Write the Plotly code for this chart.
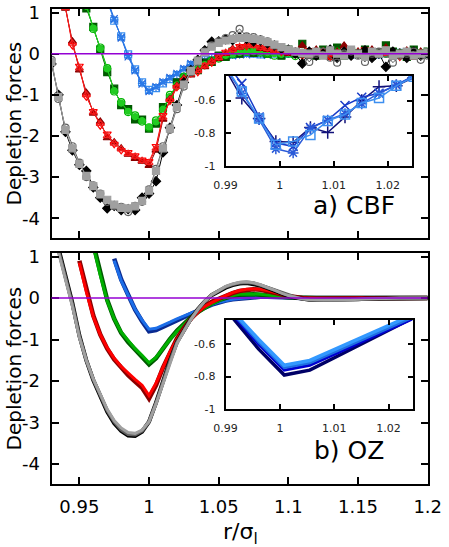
"""
Depletion forces: CBF simulation (top) vs OZ theory (bottom), with zoomed insets.
"""

import plotly.graph_objects as go

W, H = 449, 547

# ---------------------------------------------------------------------------
# data
# ---------------------------------------------------------------------------

# r/sigma grid of the main panels
R = [0.930, 0.935, 0.940, 0.945, 0.950, 0.955, 0.960, 0.965, 0.970, 0.975,
     0.980, 0.985, 0.990, 0.995, 1.000, 1.005, 1.010, 1.015, 1.020, 1.025,
     1.030, 1.035, 1.040, 1.045, 1.050, 1.055, 1.060, 1.065, 1.070, 1.075,
     1.080, 1.085, 1.090, 1.095, 1.100, 1.105, 1.110, 1.115, 1.120, 1.125,
     1.130, 1.135, 1.140, 1.145, 1.150, 1.155, 1.160, 1.165, 1.170, 1.175,
     1.180, 1.185, 1.190, 1.195, 1.200]

# (a) CBF, grey group starts at R[0]
cbf_black = [-0.25, -1.0, -1.9, -2.35, -2.7, -2.85, -3.25, -3.5, -3.76, -3.7,
             -3.8, -3.78, -3.8, -3.5, -3.4, -3.1, -2.4, -1.8, -1.25, -0.7,
             -0.4, -0.15, 0.08, 0.29, 0.3, 0.35, 0.33, 0.4, 0.36, 0.3,
             0.32, 0.25, 0.2, 0.12, 0.1, 0.0, -0.24, 0.05, -0.05, 0.0,
             0.1, -0.1, 0.05, -0.05, 0.0, 0.08, -0.1, 0.0, -0.32, 0.05,
             0.0, -0.1, 0.05, -0.05, 0.0]
cbf_dgrey = [-0.15, -1.1, -1.8, -2.25, -2.65, -3.0, -3.2, -3.4, -3.6, -3.7,
             -3.72, -3.85, -3.7, -3.6, -3.3, -2.8, -2.25, -1.85, -1.35, -0.8,
             -0.45, -0.2, 0.05, 0.2, 0.3, 0.38, 0.45, 0.6, 0.42, 0.4,
             0.35, 0.3, 0.2, 0.15, 0.08, 0.05, 0.0, -0.2, 0.0, 0.05,
             -0.1, -0.22, 0.0, 0.05, -0.05, -0.2, 0.0, 0.05, 0.0, -0.22,
             -0.05, 0.0, 0.05, -0.15, -0.05]
cbf_lgrey = [-0.2, -1.05, -1.85, -2.3, -2.68, -2.97, -3.22, -3.42, -3.55, -3.67,
             -3.75, -3.76, -3.71, -3.58, -3.33, -2.85, -2.3, -1.82, -1.3, -0.75,
             -0.42, -0.17, 0.03, 0.17, 0.26, 0.32, 0.36, 0.38, 0.38, 0.36,
             0.33, 0.28, 0.22, 0.16, 0.1, 0.05, 0.02, 0.0, 0.05, -0.05,
             0.08, 0.0, -0.05, 0.1, 0.0, -0.08, 0.05, 0.0, 0.08, -0.05,
             0.0, 0.05, -0.05, 0.0, 0.03]

# red group starts at R[2]
cbf_dred = [1.1, 0.3, -0.4, -0.95, -1.45, -1.65, -2.05, -2.15, -2.3, -2.45,
            -2.55, -2.62, -2.72, -2.35, -1.6, -1.1, -0.78, -0.6, -0.52, -0.4,
            -0.32, -0.18, -0.12, 0.0, 0.12, 0.15, 0.22, 0.2, 0.12, 0.1,
            0.05, 0.1, 0.0, 0.05, 0.2, -0.05, 0.1, 0.0, -0.1, 0.05,
            0.2, 0.0, 0.05, -0.05, 0.1, 0.0, 0.15, -0.05, 0.0, 0.08,
            -0.1, 0.05, 0.0]
cbf_red = [1.15, 0.2, -0.3, -1.05, -1.4, -1.75, -1.95, -2.2, -2.35, -2.4,
           -2.48, -2.58, -2.62, -2.25, -1.5, -1.15, -0.82, -0.65, -0.48, -0.45,
           -0.28, -0.22, -0.08, 0.04, 0.08, 0.18, 0.18, 0.22, 0.16, 0.13,
           0.1, 0.04, 0.05, 0.0, -0.05, 0.08, 0.0, 0.05, -0.08, 0.0,
           0.05, -0.05, 0.0, 0.1, -0.05, 0.0, 0.05, 0.0, -0.08, 0.05,
           0.0, -0.05, 0.03]
cbf_lred = [1.12, 0.25, -0.35, -1.0, -1.42, -1.7, -2.0, -2.18, -2.32, -2.43,
            -2.5, -2.6, -2.65, -2.3, -1.55, -1.12, -0.8, -0.62, -0.5, -0.42,
            -0.3, -0.2, -0.1, 0.02, 0.1, 0.16, 0.2, 0.19, 0.15, 0.12,
            0.08, 0.05, 0.03, 0.02, 0.0, 0.03, -0.02, 0.05, 0.0, -0.03,
            0.02, 0.0, 0.04, -0.02, 0.0, 0.03, 0.0, -0.03, 0.02, 0.0,
            0.03, -0.02, 0.0]

# green group starts at R[5]
cbf_dgreen = [1.1, 0.65, 0.1, -0.45, -0.85, -1.25, -1.35, -1.6, -1.6, -1.82,
              -1.7, -1.3, -1.1, -0.7, -0.6, -0.42, -0.4, -0.22, -0.2, -0.05,
              -0.08, 0.05, 0.0, 0.1, 0.02, 0.08, 0.0, 0.15, -0.05, 0.1,
              0.0, 0.24, 0.0, -0.05, 0.1, 0.0, 0.15, -0.05, 0.05, 0.0,
              0.1, -0.05, 0.0, 0.2, 0.05, 0.0, -0.08, 0.1, 0.0, 0.05]
cbf_green = [1.2, 0.6, 0.15, -0.35, -0.92, -1.18, -1.42, -1.5, -1.65, -1.8,
             -1.62, -1.38, -1.0, -0.78, -0.56, -0.47, -0.34, -0.28, -0.16, -0.12,
             -0.03, -0.02, 0.05, 0.04, 0.06, 0.02, 0.0, -0.05, 0.03, 0.0,
             -0.06, 0.02, 0.0, 0.04, -0.03, 0.0, 0.05, -0.04, 0.0, 0.02,
             -0.05, 0.0, 0.03, 0.0, -0.04, 0.02, 0.0, -0.03, 0.02, 0.0]
cbf_lgreen = [1.15, 0.62, 0.12, -0.37, -0.9, -1.2, -1.4, -1.53, -1.63, -1.78,
              -1.66, -1.35, -1.04, -0.76, -0.58, -0.45, -0.36, -0.27, -0.18, -0.1,
              -0.04, 0.0, 0.03, 0.05, 0.05, 0.04, 0.02, 0.0, -0.02, 0.01,
              0.0, -0.02, 0.02, 0.0, -0.01, 0.02, 0.0, -0.02, 0.01, 0.0,
              0.02, -0.01, 0.0, 0.01, -0.02, 0.0, 0.01, 0.0, -0.01, 0.0]

# blue group starts at R[8]
cbf_lblue = [1.28, 0.8, 0.42, -0.02, -0.38, -0.7, -0.88, -0.84, -0.72, -0.62,
             -0.52, -0.4, -0.28, -0.22, -0.15, -0.1, -0.06, -0.05, -0.02, 0.0,
             0.02, 0.0, -0.02, 0.01, 0.0, -0.03, 0.0, 0.02, 0.0, -0.02,
             0.01, 0.0, -0.01, 0.02, 0.0, -0.02, 0.0, 0.01, 0.0, -0.02,
             0.01, 0.0, 0.02, -0.01, 0.0, 0.01, 0.0]
cbf_blue = [1.32, 0.85, 0.38, -0.08, -0.42, -0.74, -0.92, -0.8, -0.68, -0.58,
            -0.48, -0.36, -0.24, -0.19, -0.17, -0.13, -0.1, -0.04, -0.05, -0.01,
            -0.03, 0.02, 0.0, -0.04, 0.01, 0.0, 0.03, -0.02, 0.0, 0.02,
            -0.03, 0.0, 0.01, -0.02, 0.03, 0.0, -0.01, 0.02, -0.03, 0.0,
            0.02, 0.0, -0.02, 0.01, 0.0, -0.01, 0.02]
cbf_mblue = [1.3, 0.82, 0.4, -0.05, -0.4, -0.72, -0.9, -0.82, -0.7, -0.6,
             -0.5, -0.38, -0.26, -0.2, -0.16, -0.12, -0.08, -0.05, -0.03, -0.02,
             0.0, 0.01, -0.01, 0.0, 0.02, -0.01, 0.0, 0.01, 0.0, -0.02,
             0.0, 0.01, -0.01, 0.0, 0.02, 0.0, -0.01, 0.0, 0.01, -0.01,
             0.0, 0.02, 0.0, -0.01, 0.0, 0.01, 0.0]

# (b) OZ, grey group starts at R[1]
oz_black = [1.2, 0.55, -0.12, -0.9, -1.5, -1.98, -2.38, -2.74, -3.02, -3.2,
            -3.31, -3.32, -3.22, -2.98, -2.52, -2.0, -1.5, -1.06, -0.76, -0.5,
            -0.27, -0.08, 0.07, 0.17, 0.25, 0.31, 0.35, 0.36, 0.34, 0.3,
            0.24, 0.17, 0.11, 0.05, 0.01, -0.02, -0.04, -0.05, -0.05, -0.05,
            -0.04, -0.04, -0.03, -0.03, -0.02, -0.02, -0.01, -0.01, 0.0, 0.0,
            0.0, 0.0, 0.0, 0.0]
oz_dgrey = [1.15, 0.5, -0.16, -0.92, -1.5, -1.96, -2.35, -2.71, -2.98, -3.17,
            -3.28, -3.29, -3.2, -2.98, -2.54, -2.03, -1.53, -1.08, -0.78, -0.51,
            -0.28, -0.08, 0.08, 0.18, 0.27, 0.33, 0.37, 0.38, 0.36, 0.31,
            0.25, 0.18, 0.12, 0.06, 0.02, -0.02, -0.04, -0.05, -0.05, -0.05,
            -0.05, -0.04, -0.04, -0.03, -0.02, -0.02, -0.01, -0.01, 0.0, 0.0,
            0.0, 0.0, 0.0, 0.0]
oz_lgrey = [1.1, 0.45, -0.2, -0.95, -1.5, -1.95, -2.33, -2.68, -2.95, -3.13,
            -3.24, -3.26, -3.18, -2.98, -2.55, -2.05, -1.55, -1.1, -0.8, -0.52,
            -0.28, -0.08, 0.08, 0.19, 0.28, 0.34, 0.38, 0.39, 0.37, 0.32,
            0.26, 0.19, 0.12, 0.06, 0.02, -0.02, -0.04, -0.05, -0.05, -0.05,
            -0.05, -0.04, -0.04, -0.03, -0.02, -0.02, -0.01, -0.01, 0.0, 0.0,
            0.0, 0.0, 0.0, 0.0]

# red starts at R[4]
oz_dred = [0.9, 0.2, -0.42, -0.88, -1.22, -1.48, -1.69, -1.86, -2.01, -2.16,
           -2.42, -2.1, -1.68, -1.3, -0.98, -0.72, -0.5, -0.33, -0.19, -0.09,
           -0.01, 0.06, 0.12, 0.17, 0.2, 0.21, 0.2, 0.17, 0.13, 0.09,
           0.05, 0.02, 0.0, -0.01, -0.01, -0.01, -0.01, -0.01, 0.0, 0.0,
           0.0, 0.0, 0.0, 0.0, 0.0, 0.0, 0.0, 0.0, 0.0, 0.0, 0.0]
oz_red = [0.85, 0.15, -0.45, -0.88, -1.2, -1.45, -1.65, -1.81, -1.96, -2.1,
          -2.35, -2.05, -1.66, -1.3, -1.0, -0.74, -0.52, -0.34, -0.2, -0.1,
          -0.02, 0.06, 0.13, 0.18, 0.21, 0.22, 0.21, 0.18, 0.14, 0.09,
          0.05, 0.02, 0.0, -0.01, -0.01, -0.01, -0.01, -0.01, 0.0, 0.0,
          0.0, 0.0, 0.0, 0.0, 0.0, 0.0, 0.0, 0.0, 0.0, 0.0, 0.0]

# green starts at R[6]
oz_dgreen = [1.3, 0.6, -0.05, -0.5, -0.84, -1.06, -1.25, -1.42, -1.6, -1.45,
             -1.2, -0.99, -0.79, -0.62, -0.47, -0.34, -0.23, -0.13, -0.05, 0.01,
             0.05, 0.08, 0.09, 0.09, 0.08, 0.06, 0.04, 0.03, 0.02, 0.01,
             0.0, 0.0, 0.0, 0.0, 0.0, 0.0, 0.0, 0.0, 0.0, 0.0,
             0.0, 0.0, 0.0, 0.0, 0.0, 0.0, 0.0, 0.0, 0.0]
oz_green = [1.25, 0.55, -0.07, -0.5, -0.82, -1.03, -1.22, -1.38, -1.56, -1.43,
            -1.2, -1.0, -0.8, -0.63, -0.48, -0.35, -0.24, -0.14, -0.06, 0.01,
            0.06, 0.09, 0.1, 0.1, 0.09, 0.07, 0.05, 0.03, 0.02, 0.01,
            0.0, 0.0, 0.0, 0.0, 0.0, 0.0, 0.0, 0.0, 0.0, 0.0,
            0.0, 0.0, 0.0, 0.0, 0.0, 0.0, 0.0, 0.0, 0.0]

# blue starts at R[9]
oz_dblue = [0.95, 0.45, 0.08, -0.28, -0.56, -0.8, -0.77, -0.69, -0.6, -0.52,
            -0.44, -0.37, -0.3, -0.23, -0.16, -0.1, -0.06, -0.03, -0.01, 0.01,
            0.02, 0.03, 0.03, 0.02, 0.02, 0.01, 0.01, 0.0, 0.0, 0.0,
            0.0, 0.0, 0.0, 0.0, 0.0, 0.0, 0.0, 0.0, 0.0, 0.0,
            0.0, 0.0, 0.0, 0.0, 0.0, 0.0]
oz_blue = [0.9, 0.42, 0.07, -0.27, -0.53, -0.75, -0.73, -0.66, -0.58, -0.5,
           -0.43, -0.36, -0.29, -0.22, -0.16, -0.1, -0.06, -0.03, -0.01, 0.01,
           0.02, 0.03, 0.03, 0.03, 0.02, 0.02, 0.01, 0.0, 0.0, 0.0,
           0.0, 0.0, 0.0, 0.0, 0.0, 0.0, 0.0, 0.0, 0.0, 0.0,
           0.0, 0.0, 0.0, 0.0, 0.0, 0.0]

# inset (a): blue CBF runs near the minimum
R_INSET_A = [0.9898, 0.9930, 0.9962, 0.9993, 1.0025, 1.0057,
             1.0089, 1.0121, 1.0152, 1.0184, 1.0216, 1.0248]
ins_a_square = [-0.38, -0.545, -0.71, -0.87, -0.85, -0.81, -0.725, -0.685, -0.615, -0.585, -0.51, -0.455]
ins_a_x = [-0.36, -0.495, -0.70, -0.86, -0.88, -0.765, -0.72, -0.63, -0.58, -0.555, -0.505, -0.45]
ins_a_plus = [-0.40, -0.585, -0.71, -0.85, -0.855, -0.765, -0.795, -0.70, -0.60, -0.515, -0.51, -0.46]
ins_a_star = [-0.39, -0.555, -0.715, -0.895, -0.92, -0.77, -0.72, -0.68, -0.62, -0.555, -0.505, -0.45]

# inset (b): blue OZ curves near the minimum
R_INSET_B = [0.9914, 0.9961, 1.0008, 1.0055, 1.0102, 1.0149, 1.0196, 1.0243]
ins_b_navy = [-0.44, -0.63, -0.79, -0.76, -0.68, -0.60, -0.52, -0.44]
ins_b_blue = [-0.42, -0.60, -0.76, -0.73, -0.66, -0.585, -0.515, -0.445]
ins_b_mid = [-0.41, -0.585, -0.745, -0.715, -0.645, -0.575, -0.505, -0.435]
ins_b_light = [-0.40, -0.57, -0.73, -0.70, -0.63, -0.56, -0.49, -0.42]

# tick labels
MAIN_X_TICKS = [0.95, 1.0, 1.05, 1.1, 1.15, 1.2]
MAIN_X_TEXT = ["0.95", "1", "1.05", "1.1", "1.15", "1.2"]
MAIN_Y_TICKS = [-4, -3, -2, -1, 0, 1]
MAIN_Y_TEXT = ["-4", "-3", "-2", "-1", "0", "1"]
INSET_X_TICKS = [0.99, 1.0, 1.01, 1.02]
INSET_X_TEXT = ["0.99", "1", "1.01", "1.02"]
INSET_Y_TICKS = [-1.0, -0.8, -0.6]
INSET_Y_TEXT = ["-1", "-0.8", "-0.6"]


def px_x(p):
    return p / W


def px_y(p):
    return 1 - p / H


# ---------------------------------------------------------------------------
# figure
# ---------------------------------------------------------------------------

fig = go.Figure()

# (start index, values, colour, symbol, size)
cbf_series = [
    (8, cbf_lblue, "#3b8ff0", "square-open", 7),
    (8, cbf_blue, "#1f5fd6", "x-thin-open", 7),
    (8, cbf_mblue, "#2a7ae8", "asterisk-open", 7),
    (5, cbf_dgreen, "#005a00", "square", 7),
    (5, cbf_green, "#00b400", "circle-open", 7),
    (5, cbf_lgreen, "#22cc22", "circle", 6),
    (2, cbf_dred, "#8b0000", "triangle-up", 7),
    (2, cbf_red, "#ff0000", "triangle-down-open", 7),
    (2, cbf_lred, "#f02020", "triangle-up-open", 7),
    (0, cbf_black, "#000000", "diamond", 7),
    (0, cbf_dgrey, "#606060", "circle-open", 7),
    (0, cbf_lgrey, "#a0a0a0", "square", 7),
]
for start, vals, color, sym, size in cbf_series:
    assert len(R[start:]) == len(vals)
    fig.add_trace(go.Scatter(
        x=R[start:], y=vals, mode="lines+markers",
        line=dict(color=color, width=1),
        marker=dict(symbol=sym, size=size, color=color, line=dict(color=color, width=1.2)),
        xaxis="x", yaxis="y", showlegend=False,
    ))

# (start index, values, colour, width)
oz_series = [
    (9, oz_dblue, "#0a2a90", 4.5),
    (9, oz_blue, "#1c6ee8", 3),
    (6, oz_dgreen, "#005a00", 4.5),
    (6, oz_green, "#00b000", 3),
    (4, oz_dred, "#8b0000", 4.5),
    (4, oz_red, "#ff0000", 3),
    (1, oz_black, "#000000", 4),
    (1, oz_dgrey, "#606060", 3.5),
    (1, oz_lgrey, "#a0a0a0", 3),
]
for start, vals, color, width in oz_series:
    assert len(R[start:]) == len(vals)
    fig.add_trace(go.Scatter(
        x=R[start:], y=vals, mode="lines",
        line=dict(color=color, width=width),
        xaxis="x2", yaxis="y2", showlegend=False,
    ))

ins_a_series = [
    (ins_a_plus, "#12127a", "cross-thin-open"),
    (ins_a_x, "#1a3cc8", "x-thin-open"),
    (ins_a_star, "#2a5ad8", "asterisk-open"),
    (ins_a_square, "#3d8ff0", "square-open"),
]
for vals, color, sym in ins_a_series:
    fig.add_trace(go.Scatter(
        x=R_INSET_A, y=vals, mode="lines+markers",
        line=dict(color=color, width=1.5),
        marker=dict(symbol=sym, size=9, color=color, line=dict(color=color, width=1.5)),
        xaxis="x3", yaxis="y3", showlegend=False,
    ))

ins_b_series = [
    (ins_b_navy, "#000066", 3.5),
    (ins_b_blue, "#0000d0", 3),
    (ins_b_mid, "#1f6fe0", 3),
    (ins_b_light, "#3399ff", 3.5),
]
for vals, color, width in ins_b_series:
    fig.add_trace(go.Scatter(
        x=R_INSET_B, y=vals, mode="lines",
        line=dict(color=color, width=width),
        xaxis="x4", yaxis="y4", showlegend=False,
    ))

frame = dict(
    showline=True, linecolor="black", linewidth=2, mirror="ticks",
    ticks="inside", tickcolor="black", tickwidth=2,
    showgrid=False, zeroline=False, automargin=False,
)
main_x = dict(frame, domain=[px_x(51.5), px_x(427.7)], range=[0.93, 1.2],
              tickvals=MAIN_X_TICKS, ticktext=MAIN_X_TEXT, ticklen=7,
              tickfont=dict(size=18, color="black"), ticklabelstandoff=5)
main_y = dict(frame, range=[-4.48, 1.085], tickvals=MAIN_Y_TICKS, ticktext=MAIN_Y_TEXT,
              ticklen=7, tickfont=dict(size=18, color="black"), ticklabelstandoff=6)
inset_x = dict(frame, range=[0.99, 1.0245], tickvals=INSET_X_TICKS, ticktext=INSET_X_TEXT,
               ticklen=5, tickfont=dict(size=11, color="#222"), ticklabelstandoff=8)
inset_y = dict(frame, range=[-1.0, -0.45], tickvals=INSET_Y_TICKS, ticktext=INSET_Y_TEXT,
               ticklen=5, tickfont=dict(size=11, color="#222"), ticklabelstandoff=6)

fig.update_layout(
    width=W, height=H,
    margin=dict(l=0, r=0, t=0, b=0),
    paper_bgcolor="white", plot_bgcolor="white",
    font=dict(family="DejaVu Sans", color="black"),
    xaxis=dict(main_x, anchor="y", showticklabels=False),
    yaxis=dict(main_y, anchor="x", domain=[px_y(238), px_y(9)]),
    xaxis2=dict(main_x, anchor="y2"),
    yaxis2=dict(main_y, anchor="x2", domain=[px_y(484), px_y(253)]),
    xaxis3=dict(inset_x, anchor="y3", domain=[px_x(225.6), px_x(412)]),
    yaxis3=dict(inset_y, anchor="x3", domain=[px_y(166), px_y(76)]),
    xaxis4=dict(inset_x, anchor="y4", domain=[px_x(225.6), px_x(413)]),
    yaxis4=dict(inset_y, anchor="x4", domain=[px_y(409), px_y(320)]),
)

# y = 0 reference line in both main panels
for xr, yr in (("x", "y"), ("x2", "y2")):
    fig.add_shape(type="line", xref=f"{xr} domain", yref=yr, x0=0, x1=1, y0=0, y1=0,
                  line=dict(color="#9400d3", width=1.5), layer="above")

labels = [
    ("Depletion forces", 13, 123.5, 20, -90),
    ("Depletion forces", 13, 368.5, 20, -90),
    ("a) CBF", 354, 205, 25, 0),
    ("b) OZ", 349, 450, 25, 0),
    ("r/σ<sub>l</sub>", 240, 533, 22, 0),
]
for text, x, y, size, angle in labels:
    fig.add_annotation(text=text, xref="paper", yref="paper", x=px_x(x), y=px_y(y),
                       xanchor="center", yanchor="middle", showarrow=False,
                       textangle=angle, font=dict(size=size, color="black"))

# the page's default body margin would push the figure off the window
fig.write_html(
    "out.html",
    config={"displayModeBar": False},
    post_script="document.body.style.margin = '0';",
)
